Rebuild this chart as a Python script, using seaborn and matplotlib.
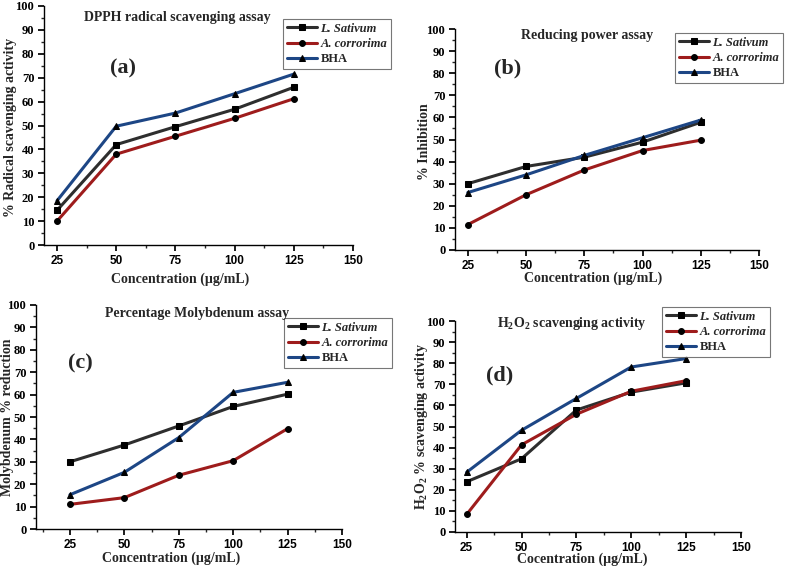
#!/usr/bin/env python3
"""Antioxidant assay panels (a)-(d): three samples against concentration."""

import matplotlib

matplotlib.use("Agg")

import matplotlib.pyplot as plt
import seaborn as sns
from matplotlib.ticker import MultipleLocator

W, H = 789, 566

CONC = [25, 50, 75, 100, 125]
SERIES = ["L. Sativum", "A. corrorima", "BHA"]

DPPH_L = [14.5, 42.0, 49.5, 56.8, 66.0]
DPPH_A = [10.0, 38.0, 45.5, 53.0, 61.2]
DPPH_B = [18.5, 49.7, 55.2, 63.3, 71.5]

RP_L = [30.0, 37.8, 42.0, 48.8, 57.8]
RP_A = [11.5, 25.0, 36.2, 45.0, 49.7]
RP_B = [26.0, 34.0, 42.8, 50.8, 58.8]

MO_L = [30.0, 37.5, 46.0, 54.7, 60.2]
MO_A = [11.0, 14.0, 24.0, 30.5, 44.8]
MO_B = [15.3, 25.3, 40.8, 61.0, 65.5]

H2O2_L = [23.8, 34.7, 57.8, 66.3, 70.7]
H2O2_A = [8.3, 41.3, 55.8, 66.7, 71.7]
H2O2_B = [28.3, 48.2, 63.3, 78.2, 82.2]

COLORS = ["#2e2e2e", "#9e1c1c", "#1d4685"]
MARKERS = ["s", "o", "^"]
SERIF = "Liberation Serif"
SANS = "Liberation Sans"


def fx(x):
    return x / W


def fy(y):
    return 1 - y / H


PANELS = [
    dict(
        data=[DPPH_L, DPPH_A, DPPH_B],
        box=(44, 6, 353, 245), xmin=19.5,
        title="DPPH radical scavenging assay", title_xy=(177, 17),
        tag="(a)", tag_xy=(123, 68),
        ylabel="% Radical scavenging activity", ylab_xy=(17, 127),
        xlabel="Concentration (µg/mL)", xlab_xy=(180, 273),
        leg_xy=(283, 19),
    ),
    dict(
        data=[RP_L, RP_A, RP_B],
        box=(455, 29, 759, 250), xmin=19.5,
        title="Reducing power assay", title_xy=(587, 36),
        tag="(b)", tag_xy=(508, 68),
        ylabel="% Inhibition", ylab_xy=(431, 142),
        xlabel="Concentration (µg/mL)", xlab_xy=(593, 272),
        leg_xy=(675, 33),
    ),
    dict(
        data=[MO_L, MO_A, MO_B],
        box=(36, 305, 342, 529), xmin=9.4,
        title="Percentage Molybdenum assay", title_xy=(197, 313),
        tag="(c)", tag_xy=(80, 363),
        ylabel="Molybdenum % reduction", ylab_xy=(14, 417),
        xlabel="Concentration (µg/mL)", xlab_xy=(171, 552),
        leg_xy=(284, 318),
    ),
    dict(
        data=[H2O2_L, H2O2_A, H2O2_B],
        box=(455, 321, 741, 532), xmin=19.7,
        title="H$_2$O$_2$ scavenging activity", title_xy=(572, 323),
        tag="(d)", tag_xy=(500, 375),
        ylabel="H$_2$O$_2$ % scavenging activity", ylab_xy=(430, 426),
        xlabel="Cocentration (µg/mL)", xlab_xy=(582, 553),
        leg_xy=(662, 307),
    ),
]


def setup_style():
    sns.set_theme(style="ticks")
    plt.rcParams.update(
        {
            "font.family": [SERIF, "DejaVu Serif"],
            "font.weight": "bold",
            "axes.labelweight": "bold",
            "mathtext.fontset": "custom",
            "mathtext.rm": "Liberation Serif:bold",
            "mathtext.it": "Liberation Serif:bold",
            "mathtext.bf": "Liberation Serif:bold",
            "axes.spines.top": False,
            "axes.spines.right": False,
            "axes.linewidth": 1.0,
            "axes.edgecolor": "black",
            "xtick.direction": "out",
            "ytick.direction": "out",
            "xtick.major.size": 4,
            "ytick.major.size": 4,
            "xtick.minor.size": 2,
            "ytick.minor.size": 2,
        }
    )


def draw_panel(fig, p):
    l, t, r, b = p["box"]
    ax = fig.add_axes([fx(l), fy(b), (r - l) / W, (b - t) / H])
    for name, vals, color, marker in zip(SERIES, p["data"], COLORS, MARKERS):
        sns.lineplot(
            x=CONC, y=vals, ax=ax, color=color, marker=marker,
            markersize=4.2, markeredgecolor="black", markerfacecolor="black",
            linewidth=2.2, label=name,
        )

    ax.set_xlim(p["xmin"], 150)
    ax.set_ylim(0, 100)
    ax.set_xticks([25, 50, 75, 100, 125, 150])
    ax.set_yticks(range(0, 101, 10))
    ax.xaxis.set_minor_locator(MultipleLocator(12.5))
    ax.yaxis.set_minor_locator(MultipleLocator(5))
    for lab in ax.get_xticklabels():
        lab.set_fontfamily(SANS)
        lab.set_fontweight("bold")
        lab.set_fontsize(8.5)
    for lab in ax.get_yticklabels():
        lab.set_fontweight("bold")
        lab.set_fontsize(9)
    ax.tick_params(axis="both", pad=3, colors="black")

    ax.set_xlabel(p["xlabel"], fontsize=10, fontweight="bold", va="top")
    ax.xaxis.set_label_coords(fx(p["xlab_xy"][0]), fy(p["xlab_xy"][1]), transform=fig.transFigure)
    ax.set_ylabel(p["ylabel"], fontsize=10, fontweight="bold")
    ax.yaxis.set_label_coords(fx(p["ylab_xy"][0]), fy(p["ylab_xy"][1]), transform=fig.transFigure)

    fig.text(fx(p["title_xy"][0]), fy(p["title_xy"][1]), p["title"], ha="center", va="center",
             fontsize=10, fontweight="bold")
    fig.text(fx(p["tag_xy"][0]), fy(p["tag_xy"][1]), p["tag"], ha="center", va="center",
             fontsize=16, fontweight="bold")

    leg = ax.legend(
        loc="upper left", bbox_to_anchor=(fx(p["leg_xy"][0]), fy(p["leg_xy"][1])),
        bbox_transform=fig.transFigure, frameon=True, fancybox=False,
        fontsize=9, handlelength=2.4, handletextpad=0.3, borderpad=0.3,
        labelspacing=0.25, borderaxespad=0,
    )
    leg.get_frame().set_edgecolor("#555555")
    leg.get_frame().set_linewidth(0.8)
    for txt in leg.get_texts():
        txt.set_fontweight("bold")
        if txt.get_text() != "BHA":
            txt.set_fontstyle("italic")


def main():
    setup_style()
    fig = plt.figure(figsize=(W / 100, H / 100), dpi=100)
    for p in PANELS:
        draw_panel(fig, p)
    fig.savefig("out.png", dpi=100, facecolor="white")


if __name__ == "__main__":
    main()
